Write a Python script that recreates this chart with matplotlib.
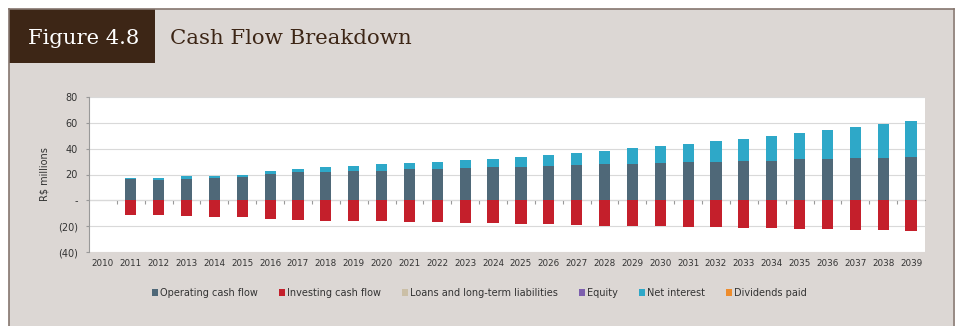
import matplotlib.pyplot as plt
import numpy as np
from matplotlib.patches import Rectangle, Patch
from matplotlib.lines import Line2D

years = list(range(2010, 2040))

# R$ millions per year (2010 has no flows)
operating = [0, 16.9, 15.8, 16.9, 17.4, 17.9, 20.3, 21.6, 21.8, 22.4,
             22.6, 23.9, 24.2, 24.7, 25.5, 26.0, 26.7, 27.3, 27.8, 28.0,
             28.8, 29.4, 29.9, 30.4, 30.6, 31.7, 32.0, 32.5, 33.0, 33.5]
net_interest = [0, 0.2, 1.6, 1.6, 1.5, 2.1, 2.1, 2.8, 3.7, 4.1,
                5.2, 4.7, 5.7, 6.5, 6.7, 7.7, 8.6, 9.3, 10.6, 12.3,
                13.3, 14.5, 15.8, 17.4, 19.3, 20.3, 22.3, 24.4, 26.2, 28.3]
investing = [0, -11.4, -11.7, -12.0, -12.7, -13.0, -14.8, -15.3, -15.8, -15.8,
             -16.1, -16.6, -17.1, -17.4, -17.9, -18.2, -18.7, -19.0, -19.5, -19.7,
             -19.7, -20.8, -20.8, -21.3, -21.6, -22.1, -22.3, -22.8, -22.8, -23.4]
loans = [0] * 30
equity = [0] * 30
dividends = [0] * 30

series_names = ["Operating cash flow", "Investing cash flow",
                "Loans and long-term liabilities", "Equity",
                "Net interest", "Dividends paid"]
series_colors = ["#4f6878", "#c41f2b", "#cbbfa6", "#7d5fae", "#2ea8c8", "#ee8c2c"]

y_ticks = [-40, -20, 0, 20, 40, 60, 80]
y_tick_labels = ["(40)", "(20)", "-", "20", "40", "60", "80"]

bg = "#dcd7d4"
fig = plt.figure(figsize=(9.59, 3.26), dpi=100)
fig.patch.set_facecolor("white")

# panel background and border
W, H = 959, 326
fig.add_artist(Rectangle((9 / W, 0), (953 - 9) / W, 1 - 9 / H,
                         transform=fig.transFigure, facecolor=bg,
                         edgecolor="none", zorder=0))
fig.add_artist(Line2D([9 / W, 954 / W], [1 - 9 / H, 1 - 9 / H],
                      transform=fig.transFigure, color="#85766e", lw=1.2))
fig.add_artist(Line2D([9 / W, 9 / W], [0, 1 - 9 / H],
                      transform=fig.transFigure, color="#85766e", lw=1.2))
fig.add_artist(Line2D([954 / W, 954 / W], [0, 1 - 9 / H],
                      transform=fig.transFigure, color="#85766e", lw=1.2))

# header tab
fig.add_artist(Rectangle((9 / W, 1 - 63 / H), (155 - 9) / W, (63 - 9) / H,
                         transform=fig.transFigure, facecolor="#3d2616",
                         edgecolor="none", zorder=1))
fig.text(84 / W, 1 - 38 / H, "Figure 4.8", color="white", fontsize=15.2,
         family="DejaVu Serif", ha="center", va="center", zorder=2)
fig.text(170 / W, 1 - 38 / H, "Cash Flow Breakdown", color="#3d2616",
         fontsize=15.3, family="DejaVu Serif", ha="left", va="center", zorder=2)

ax = fig.add_axes([89 / W, 1 - 252 / H, (925 - 89) / W, (252 - 97) / H])
ax.set_facecolor("white")

x = np.arange(len(years))
op = np.array(operating)
width = 0.4
ax.bar(x, operating, width, color=series_colors[0], zorder=3)
ax.bar(x, investing, width, color=series_colors[1], zorder=3)
ax.bar(x, loans, width, bottom=op, color=series_colors[2], zorder=3)
ax.bar(x, equity, width, bottom=op, color=series_colors[3], zorder=3)
ax.bar(x, net_interest, width, bottom=op, color=series_colors[4], zorder=3)
ax.bar(x, dividends, width, bottom=op + np.array(net_interest),
       color=series_colors[5], zorder=3)

ax.set_xlim(-0.5, len(years) - 0.5)
ax.set_ylim(-40, 80)
ax.set_yticks(y_ticks)
ax.set_yticklabels(y_tick_labels, fontsize=7, color="#333333")
ax.set_xticks(x)
ax.set_xticklabels([str(y) for y in years], fontsize=6.3, color="#333333")
ax.tick_params(axis="x", length=0, pad=5)
ax.tick_params(axis="y", length=2, color="#999999", pad=6)
ax.grid(axis="y", color="#d9d9d9", lw=0.8, zorder=0)
ax.set_axisbelow(True)
for side in ["top", "right", "bottom"]:
    ax.spines[side].set_visible(False)
ax.spines["left"].set_color("#999999")
ax.set_ylabel("R$ millions", fontsize=7, color="#333333", labelpad=6)

# zero line with category separators
zero_axis = ax.secondary_xaxis(40 / 120)
zero_axis.set_xticks(np.arange(len(years) - 1) + 0.5)
zero_axis.set_xticklabels([])
zero_axis.tick_params(length=3, color="#999999", direction="out")
zero_axis.spines["bottom"].set_color("#999999")

handles = [Patch(facecolor=c, edgecolor="none") for c in series_colors]
fig.legend(handles, series_names, loc="center", bbox_to_anchor=(0.5, 1 - 293 / H),
           ncol=6, frameon=False, fontsize=7, handlelength=0.6, handleheight=0.6,
           handletextpad=0.2, columnspacing=2.2, labelcolor="#333333")

fig.savefig("out.png", dpi=100, facecolor=fig.get_facecolor())
